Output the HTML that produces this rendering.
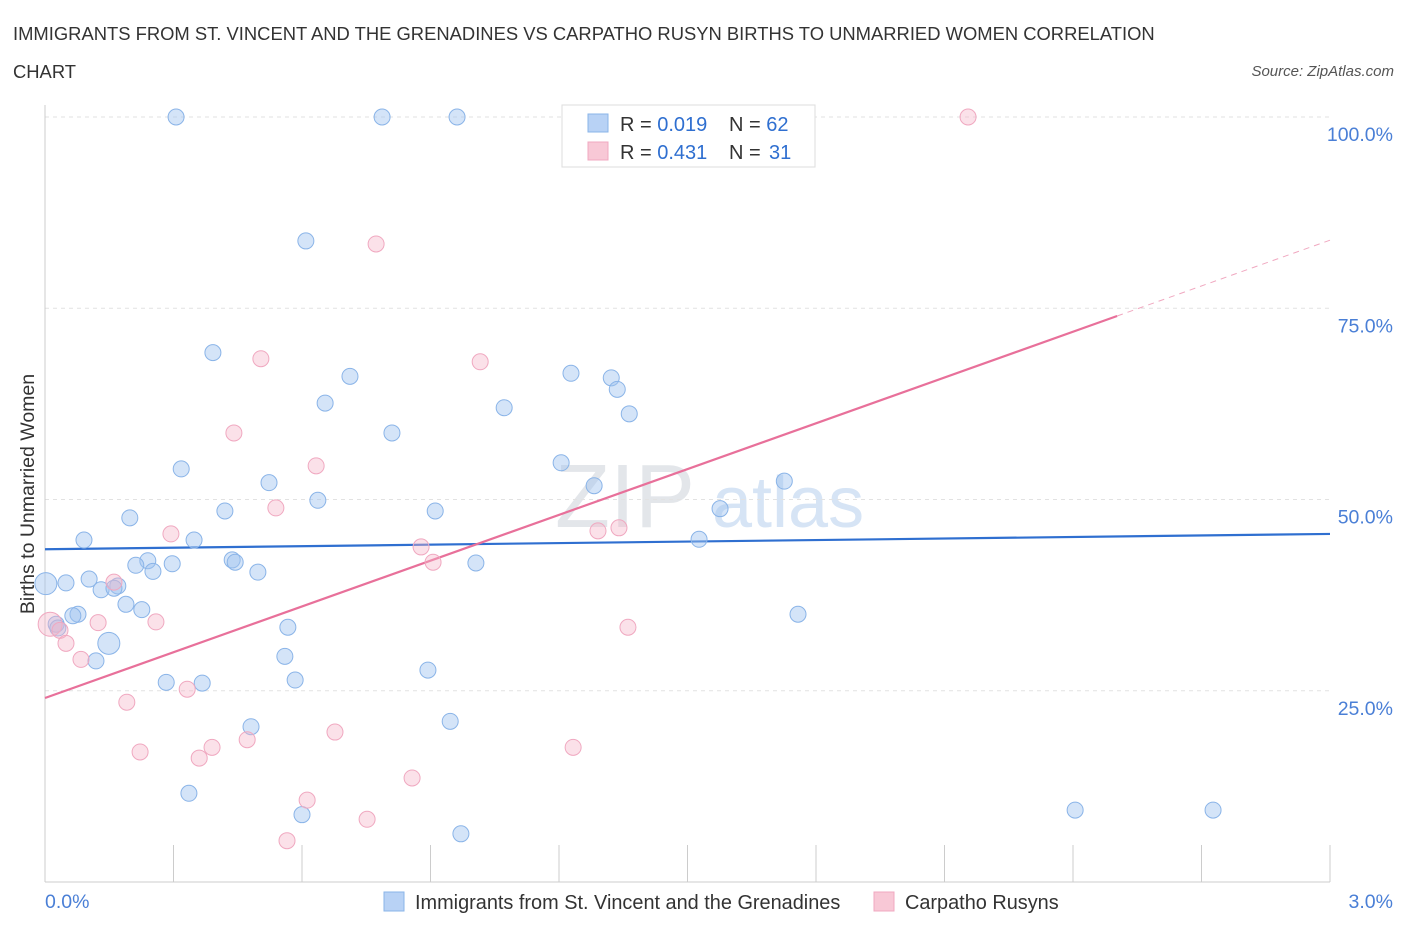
<!DOCTYPE html>
<html><head><meta charset="utf-8"><style>
body{margin:0;background:#fff;font-family:"Liberation Sans",sans-serif;}
svg text{font-family:"Liberation Sans",sans-serif;}
</style></head><body>
<svg id="chart" width="1406" height="930" viewBox="0 0 1406 930" xmlns="http://www.w3.org/2000/svg">
<text x="13" y="40" font-size="18.4" fill="#333">IMMIGRANTS FROM ST. VINCENT AND THE GRENADINES VS CARPATHO RUSYN BIRTHS TO UNMARRIED WOMEN CORRELATION</text>
<text x="13" y="78" font-size="18.4" fill="#333">CHART</text>
<text x="1394" y="76" font-size="15" fill="#555" text-anchor="end" font-style="italic">Source: ZipAtlas.com</text>
<text x="555" y="527" font-size="90" fill="#e3e6ea" font-family="Liberation Serif">ZIP</text>
<text x="712" y="527" font-size="72" fill="#d6e4f5">atlas</text>
<g id="grid"></g><g id="axes"></g><g id="lines"></g><g id="pts"></g>
<text transform="translate(34,494) rotate(-90)" font-size="19.5" fill="#333" text-anchor="middle">Births to Unmarried Women</text>
<g>
<rect x="562" y="105" width="253" height="62" fill="#fff" stroke="#ddd"/>
<rect x="588" y="114" width="20" height="18" fill="#b8d2f5" stroke="#8ab4e8"/>
<rect x="588" y="142" width="20" height="18" fill="#f8c8d6" stroke="#f0a8c0"/>
<text x="620" y="131" font-size="20" fill="#333">R = <tspan fill="#2f6fd0">0.019</tspan></text>
<text x="729" y="131" font-size="20" fill="#333">N = <tspan fill="#2f6fd0">62</tspan></text>
<text x="620" y="159" font-size="20" fill="#333">R = <tspan fill="#2f6fd0">0.431</tspan></text>
<text x="729" y="159" font-size="20" fill="#333">N = <tspan x="769" fill="#2f6fd0">31</tspan></text>
</g>
<g>
<rect x="384" y="892" width="20" height="19" fill="#b8d2f5" stroke="#8ab4e8"/>
<text x="415" y="909" font-size="19.9" fill="#333">Immigrants from St. Vincent and the Grenadines</text>
<rect x="874" y="892" width="20" height="19" fill="#f8c8d6" stroke="#f0a8c0"/>
<text x="905" y="909" font-size="19.9" fill="#333">Carpatho Rusyns</text>
</g>
</svg>
<script>
const blueX=[0.306,0.787,0.962,0.609,0.392,0.712,1.228,1.322,1.336,0.654,1.072,1.364,0.810,0.318,1.205,0.523,1.282,0.637,1.726,0.198,0.420,0.911,1.576,0.091,0.348,1.527,0.240,0.437,0.444,0.212,0.297,0.252,0.497,1.006,0.002,0.049,0.103,0.131,0.170,0.161,0.189,0.226,0.077,0.065,0.026,0.030,0.567,0.149,0.119,0.560,0.894,0.283,0.367,0.584,0.481,0.946,1.758,0.336,0.600,0.971,2.405,2.727];
const blueY=[100,100,100,83.8,69.2,66.1,66.5,65.9,64.4,62.6,62.0,61.2,58.7,54.0,54.8,52.2,51.8,49.9,52.4,47.6,48.5,48.5,48.8,44.7,44.7,44.8,42.0,42.1,41.8,41.4,41.6,40.6,40.5,41.7,39.0,39.1,39.6,38.2,38.7,38.4,36.3,35.6,35.0,34.8,33.7,33.2,33.3,31.2,28.9,29.5,27.7,26.1,26.0,26.4,20.3,21.0,35.0,11.6,8.8,6.3,9.4,9.4];
const pinkX=[2.155,0.773,0.504,1.016,0.441,0.633,0.539,0.294,1.340,1.291,0.878,0.906,0.161,0.012,0.035,0.049,0.124,0.259,0.084,0.332,0.191,0.222,0.390,0.360,0.472,0.677,1.233,1.361,0.857,0.612,0.752,0.565];
const pinkY=[100,83.4,68.4,68.0,58.7,54.4,48.9,45.5,46.3,45.9,43.8,41.8,39.2,33.7,32.9,31.2,33.9,34.0,29.1,25.2,23.5,17.0,17.6,16.2,18.6,19.6,17.6,33.3,13.6,10.7,8.2,5.4];
const blueTrend=[43.5,45.5];
const pinkTrend=[24.05,83.9];
const pinkSolidEnd=2.503;
const yTicks=[25,50,75,100];
const yTickLabels=["25.0%","50.0%","75.0%","100.0%"];
const NS="http://www.w3.org/2000/svg";
const X=v=>45+v/3*1285, Y=v=>882-v*7.65;
function mk(p,tag,a){const e=document.createElementNS(NS,tag);for(const k in a)e.setAttribute(k,a[k]);p.appendChild(e);return e;}
const g=document.getElementById('grid'),ax=document.getElementById('axes'),ln=document.getElementById('lines'),pt=document.getElementById('pts');
yTicks.forEach((t,i)=>{
 const l=mk(g,'line',{x1:45,x2:1330,y1:Y(t),y2:Y(t),stroke:'#e2e2e2','stroke-dasharray':'4,4'});
 
 
 const tx=mk(g,'text',{x:1393,y:Y(t)+24,'font-size':19.5,fill:'#4a7fd6','text-anchor':'end'});
 tx.textContent=yTickLabels[i];
 
 
});
const ya=mk(ax,'line',{x1:45,x2:45,y1:105,y2:882,stroke:'#ccc'});


const xa=mk(ax,'line',{x1:45,x2:1330,y1:882,y2:882,stroke:'#ccc'});


for(let i=0;i<=10;i++){const t=mk(ax,'line',{x1:X(i*0.3),x2:X(i*0.3),y1:845,y2:882,stroke:'#ccc'});
 
 }
[[0,'0.0%','start',45],[3,'3.0%','end',1393]].forEach(a=>{const t=mk(ax,'text',{x:a[3],y:908,'font-size':19.5,fill:'#4a7fd6','text-anchor':a[2]});t.textContent=a[1];
 
 });
blueX.forEach((x,i)=>{const big=(i==34||i==47);const c=mk(pt,'circle',{cx:X(x),cy:Y(blueY[i]),r:big?11:8,fill:'rgba(160,196,240,0.45)',stroke:'#8ab4e8','stroke-width':1});
 
 });
pinkX.forEach((x,i)=>{const big=(i==13);const c=mk(pt,'circle',{cx:X(x),cy:Y(pinkY[i]),r:big?12:8,fill:'rgba(245,180,200,0.4)',stroke:'#f0a8c0','stroke-width':1});
 
 });
const pAt=v=>pinkTrend[0]+(pinkTrend[1]-pinkTrend[0])*v/3;
const bl=mk(ln,'line',{x1:X(0),y1:Y(blueTrend[0]),x2:X(3),y2:Y(blueTrend[1]),stroke:'#2f6fd0','stroke-width':2.2});


const pl=mk(ln,'line',{x1:X(0),y1:Y(pAt(0)),x2:X(pinkSolidEnd),y2:Y(pAt(pinkSolidEnd)),stroke:'#e8709a','stroke-width':2.2});


const pd=mk(ln,'line',{x1:X(pinkSolidEnd),y1:Y(pAt(pinkSolidEnd)),x2:X(3),y2:Y(pAt(3)),stroke:'#f0a8c0','stroke-width':1,'stroke-dasharray':'6,5'});


</script>
</body></html>
